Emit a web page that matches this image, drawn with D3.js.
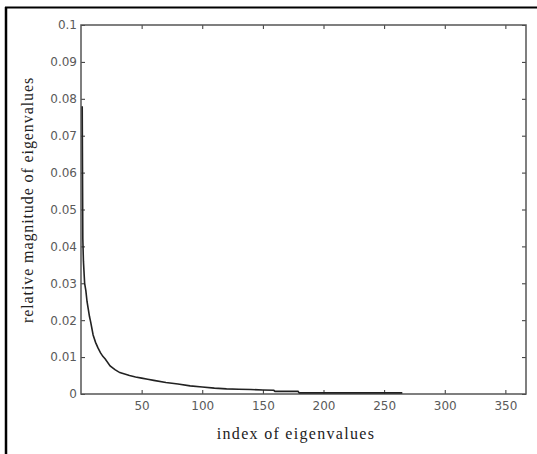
<!DOCTYPE html>
<html><head><meta charset="utf-8">
<script src="https://cdn.jsdelivr.net/npm/d3@7"></script>
<style>body{margin:0;background:#fff}svg{display:block}</style>
</head><body>
<script>
const indices = [1,1.5,2,3,4,5,6,7,8,10,12,14,16,18,20,24,28,32,36,40,45,50,55,60,70,80,90,100,110,120,130,140,150,159,160,179,180,200,220,240,265];
const values  = [0.078,0.042,0.036,0.030,0.028,0.025,0.023,0.021,0.0195,0.016,0.0140,0.0125,0.0112,0.0102,0.0095,0.0076,0.0066,0.0058,0.0054,0.0050,0.0046,0.0043,0.0040,0.0037,0.0031,0.0027,0.0022,0.0019,0.0016,0.0014,0.0013,0.0012,0.0011,0.0010,0.0007,0.0007,0.0003,0.0003,0.0003,0.0003,0.0003];
const xTicks = [50,100,150,200,250,300,350];
const yTicks = [0,0.01,0.02,0.03,0.04,0.05,0.06,0.07,0.08,0.09,0.1];
const xDomain = [0,367];
const yDomain = [0,0.1];

const W=537,H=454;
const m={left:81,top:25,right:526,bottom:394};
const svg=d3.select("body").append("svg").attr("width",W).attr("height",H);

// outer frame (left and top edges)
svg.append("line").attr("x1",6).attr("x2",6).attr("y1",7).attr("y2",H).attr("stroke","#000").attr("stroke-width",2.5);
svg.append("line").attr("x1",5).attr("x2",W).attr("y1",7.5).attr("y2",7.5).attr("stroke","#000").attr("stroke-width",2);

const x=d3.scaleLinear().domain(xDomain).range([m.left,m.right]);
const y=d3.scaleLinear().domain(yDomain).range([m.bottom,m.top]);

const textCol="#5a5a5a";
const font="DejaVu Sans, sans-serif";

function styleAxis(g){
  g.select(".domain").remove();
  g.selectAll(".tick line").attr("stroke","#333").attr("stroke-width",1);
  g.selectAll(".tick text").attr("fill",textCol).attr("font-family",font).attr("font-size",12);
}
// bottom axis (ticks inward)
svg.append("g").attr("transform",`translate(0,${m.bottom})`)
  .call(d3.axisBottom(x).tickValues(xTicks).tickSizeInner(-4).tickSizeOuter(0).tickPadding(7).tickFormat(d3.format("d")))
  .call(styleAxis);
// top axis
svg.append("g").attr("transform",`translate(0,${m.top})`)
  .call(d3.axisTop(x).tickValues(xTicks).tickSizeInner(-4).tickSizeOuter(0).tickFormat(""))
  .call(styleAxis);
// left axis
svg.append("g").attr("transform",`translate(${m.left},0)`)
  .call(d3.axisLeft(y).tickValues(yTicks).tickSizeInner(-4).tickSizeOuter(0).tickPadding(4).tickFormat(d=>d===0?"0":d3.format("")(+d.toFixed(2))))
  .call(styleAxis);
// right axis
svg.append("g").attr("transform",`translate(${m.right},0)`)
  .call(d3.axisRight(y).tickValues(yTicks).tickSizeInner(-4).tickSizeOuter(0).tickFormat(""))
  .call(styleAxis);

// box
svg.append("rect").attr("x",m.left).attr("y",m.top).attr("width",m.right-m.left).attr("height",m.bottom-m.top)
  .attr("fill","none").attr("stroke","#555").attr("stroke-width",1.5);

// curve
const pts=indices.map((d,i)=>[d,values[i]]);
svg.append("path").datum(pts)
  .attr("d",d3.line().x(d=>x(d[0])).y(d=>y(d[1])))
  .attr("fill","none").attr("stroke","#222").attr("stroke-width",1.6);

// labels
svg.append("text").attr("x",296).attr("y",439).attr("text-anchor","middle")
  .attr("font-family","Liberation Serif, Times New Roman, serif").attr("font-size",16).attr("letter-spacing",1.3).attr("fill","#222")
  .text("index of eigenvalues");
svg.append("text").attr("transform",`translate(33,200) rotate(-90)`).attr("text-anchor","middle")
  .attr("font-family","Liberation Serif, Times New Roman, serif").attr("font-size",16).attr("letter-spacing",0.9).attr("fill","#222")
  .text("relative magnitude of eigenvalues");
</script>
</body></html>
